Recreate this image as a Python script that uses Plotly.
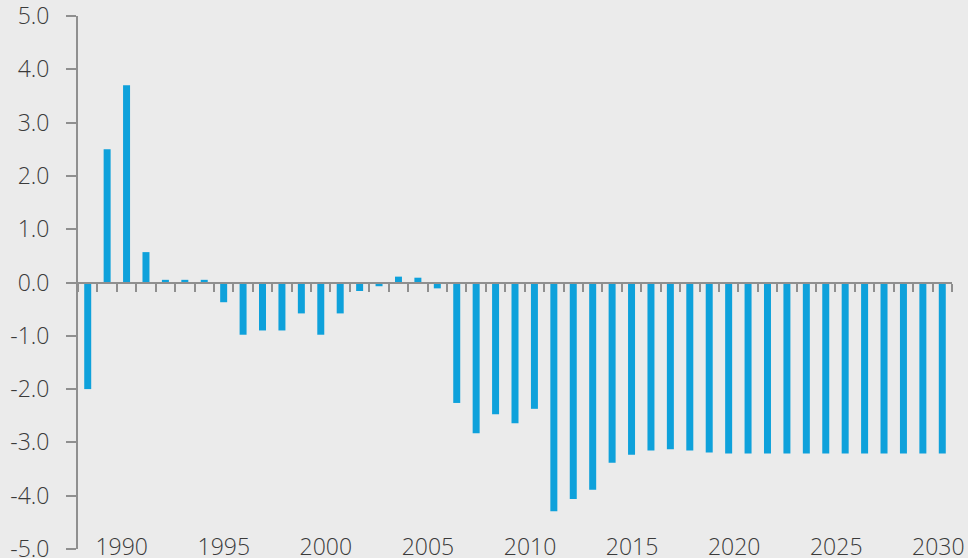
import plotly.graph_objects as go

# one bar per slot on the category axis (45 slots drawn in the source)
bar_slots = [str(y) for y in range(1988, 2033)]
bar_values = [-2.0, 2.5, 3.7, 0.57, 0.05, 0.05, 0.05, -0.37, -0.98, -0.9,
              -0.9, -0.58, -0.98, -0.58, -0.16, -0.07, 0.11, 0.09, -0.11, -2.26,
              -2.83, -2.47, -2.64, -2.37, -4.29, -4.06, -3.89, -3.38, -3.23, -3.15,
              -3.13, -3.15, -3.19, -3.21, -3.21, -3.21, -3.21, -3.21, -3.21, -3.21,
              -3.21, -3.21, -3.21, -3.21, -3.21]

label_years = [1990, 1995, 2000, 2005, 2010, 2015, 2020, 2025, 2030]
y_ticks = [-5, -4, -3, -2, -1, 0, 1, 2, 3, 4, 5]

BG = "#ebebeb"
BAR = "#0ea1db"
AXIS = "#8f8f8f"
TXT = "#3a3a3a"
FONT = dict(family="Open Sans", size=23, color=TXT, weight=300)

fig = go.Figure()
fig.add_trace(go.Bar(x=bar_slots, y=bar_values, marker_color=BAR,
                     marker_line_width=0, showlegend=False))

# invisible trace so the label axis gets drawn
fig.add_trace(go.Scatter(x=[label_years[0]], y=[0], xaxis="x2", mode="markers",
                         marker=dict(opacity=0), showlegend=False, hoverinfo="skip"))

fig.update_layout(
    width=968, height=558,
    margin=dict(l=78, r=16, t=16, b=9, autoexpand=False),
    paper_bgcolor=BG, plot_bgcolor=BG,
    bargap=0.64,
    font=FONT,
    xaxis=dict(type="category", range=[-0.5, len(bar_slots) - 0.5],
               anchor="free", position=0.5, automargin=False,
               showline=True, linecolor=AXIS, linewidth=2,
               ticks="outside", ticklen=8, tickwidth=2, tickcolor=AXIS,
               tickson="boundaries", showticklabels=False,
               showgrid=False, zeroline=False),
    xaxis2=dict(overlaying="x", anchor="free", position=0.034, automargin=False,
                range=[1987.86, 2030.67], tickmode="array", tickvals=label_years,
                ticktext=[str(y) for y in label_years], ticks="",
                ticklabeloverflow="allow",
                showline=False, showgrid=False, zeroline=False, tickfont=FONT),
    yaxis=dict(range=[-5, 5], tickmode="array", tickvals=y_ticks,
               ticktext=[f"{v:.1f}" for v in y_ticks], automargin=False,
               showline=True, linecolor=AXIS, linewidth=2,
               ticks="outside", ticklen=10, tickwidth=2, tickcolor=AXIS,
               ticklabelstandoff=12, ticklabeloverflow="allow",
               showgrid=False, zeroline=False, tickfont=FONT),
)

# drop the page's default body margin so the figure sits at the window corner
fig.write_html("out.html", config={"displayModeBar": False},
               post_script="document.body.style.margin='0';")
